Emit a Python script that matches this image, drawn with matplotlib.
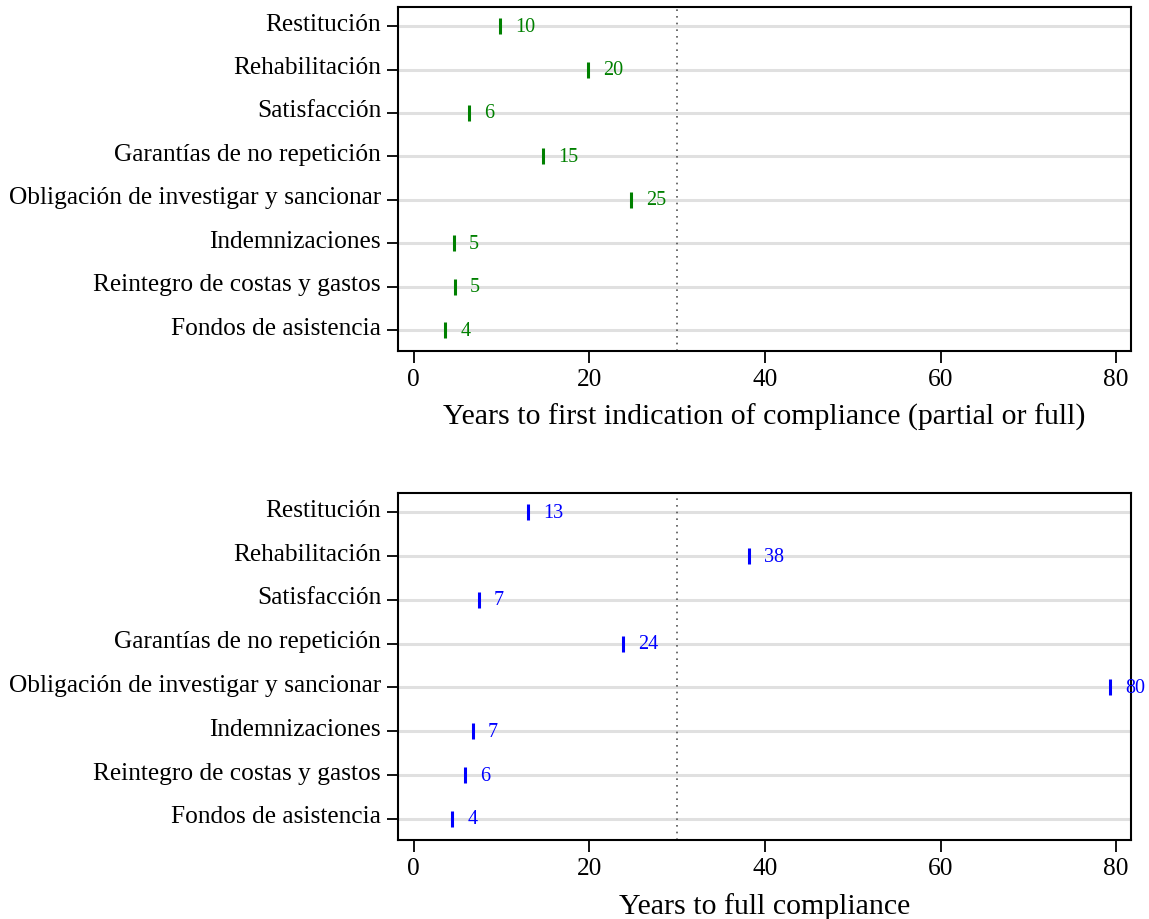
import matplotlib.pyplot as plt
import matplotlib.transforms as mtransforms

plt.rcParams['font.family'] = ['Liberation Serif', 'DejaVu Serif']

categories = ['Restitución', 'Rehabilitación', 'Satisfacción', 'Garantías de no repetición',
              'Obligación de investigar y sancionar', 'Indemnizaciones',
              'Reintegro de costas y gastos', 'Fondos de asistencia']

# years to first indication of compliance (partial or full)
first_years = [9.8, 19.8, 6.3, 14.7, 24.7, 4.6, 4.7, 3.6]
first_labels = ['10', '20', '6', '15', '25', '5', '5', '4']

# years to full compliance
full_years = [13.0, 38.2, 7.4, 23.8, 79.3, 6.7, 5.8, 4.4]
full_labels = ['13', '38', '7', '24', '80', '7', '6', '4']

xticks = [0, 20, 40, 60, 80]
ref_line = 30

fig = plt.figure(figsize=(11.49, 9.2), dpi=100)
ax1 = fig.add_axes([0.3464, 0.6174, 0.6380, 0.3739])
ax2 = fig.add_axes([0.3464, 0.0859, 0.6380, 0.3772])


def draw_panel(ax, values, labels, color, xlabel):
    n = len(categories)
    ypos = list(range(n, 0, -1))
    for y in ypos:
        ax.axhline(y, color='#e0e0e0', lw=2.2, zorder=0)
    ax.axvline(ref_line, color='#555555', lw=1.2, ls=(0, (1, 3)), zorder=1)
    ax.plot(values, ypos, ls='none', marker='|', ms=12, mew=2.2, color=color, zorder=3)
    offset = mtransforms.offset_copy(ax.transData, fig=fig, x=15, y=0, units='dots')
    for v, y, lab in zip(values, ypos, labels):
        ax.text(v, y, lab, transform=offset, color=color, fontsize=14.5,
                va='center', ha='left', zorder=4, clip_on=False)

    # category labels drawn as text so they sit a little above their ticks
    ax.set_yticks(ypos)
    ax.set_yticklabels([])
    cat_tr = mtransforms.offset_copy(ax.get_yaxis_transform(), fig=fig, x=-17, y=5, units='dots')
    for y, cat in zip(ypos, categories):
        ax.text(0, y, cat, transform=cat_tr, fontsize=18.3, ha='right', va='center_baseline')

    ax.set_ylim(0.52, n + 0.44)
    ax.set_xlim(-1.8, 81.7)
    ax.set_xticks(xticks)
    ax.tick_params(axis='x', labelsize=18.3, length=8.5, width=1.3, pad=4)
    ax.tick_params(axis='y', length=8, width=1.3)
    ax.set_xlabel(xlabel, fontsize=21.5, labelpad=9)
    for s in ax.spines.values():
        s.set_linewidth(1.5)


draw_panel(ax1, first_years, first_labels, '#008000',
           'Years to first indication of compliance (partial or full)')
draw_panel(ax2, full_years, full_labels, '#0000ff', 'Years to full compliance')

fig.savefig('out.png', dpi=100)
